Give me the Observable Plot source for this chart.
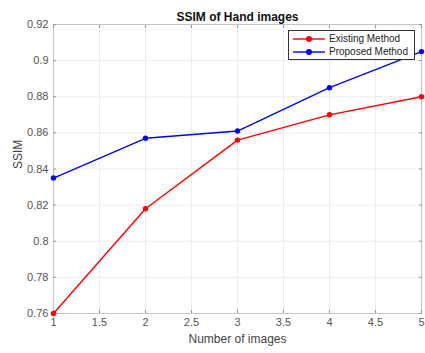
<!DOCTYPE html>
<html><head><meta charset="utf-8">
<script src="https://cdn.jsdelivr.net/npm/d3@7"></script>
<script src="https://cdn.jsdelivr.net/npm/@observablehq/plot@0.6"></script>
<style>
body{margin:0;background:#fff;font-family:"Liberation Sans",Arial,sans-serif;}
#wrap{position:relative;width:425px;height:353px;}
#legend{position:absolute;left:288px;top:30px;width:125px;height:28px;border:1px solid #333;background:#fff;font-size:10px;color:#222;white-space:nowrap;}
#legend .row{position:absolute;left:3px;height:13px;display:flex;align-items:center;}
#legend svg{margin-right:3px;}
</style></head>
<body><div id="wrap"><div id="legend"></div></div>
<script>
const images = [1, 2, 3, 4, 5];
const existing = [0.76, 0.818, 0.856, 0.87, 0.88];
const proposed = [0.835, 0.857, 0.861, 0.885, 0.905];
const seriesNames = ["Existing Method", "Proposed Method"];
const seriesColors = ["#ff0000", "#0000ff"];
const xTicks = [1, 1.5, 2, 2.5, 3, 3.5, 4, 4.5, 5];
const yTicks = [0.76, 0.78, 0.8, 0.82, 0.84, 0.86, 0.88, 0.9, 0.92];

const data = [];
images.forEach((x, i) => {
  data.push({x, y: existing[i], s: seriesNames[0]});
  data.push({x, y: proposed[i], s: seriesNames[1]});
});

const chart = Plot.plot({
  width: 425, height: 353,
  marginLeft: 53, marginRight: 4, marginTop: 24, marginBottom: 40,
  style: {fontFamily: "Liberation Sans, Arial, sans-serif", fontSize: "11px", color: "#555", background: "#fff"},
  x: {domain: [1, 5], ticks: xTicks, label: null},
  y: {domain: [0.76, 0.92], ticks: yTicks, label: null},
  color: {domain: seriesNames, range: seriesColors},
  marks: [
    Plot.gridX(xTicks, {stroke: "#ebebeb", strokeOpacity: 1}),
    Plot.gridY(yTicks, {stroke: "#ebebeb", strokeOpacity: 1}),
    Plot.frame({stroke: "#c4c4c4"}),
    Plot.axisX(xTicks, {anchor: "bottom", tickSize: -3, tickPadding: 8, stroke: "#999", fill: "#555", tickFormat: d => String(d), fontSize: 11, label: null}),
    Plot.axisX(xTicks, {anchor: "top", tickSize: -3, text: null, stroke: "#999", label: null}),
    Plot.axisY(yTicks, {anchor: "left", tickSize: -3, tickPadding: 8, stroke: "#999", fill: "#555", tickFormat: d => String(+d.toFixed(2)), fontSize: 11, label: null}),
    Plot.axisY(yTicks, {anchor: "right", tickSize: -3, text: null, stroke: "#999", label: null}),
    Plot.line(data, {x: "x", y: "y", z: "s", stroke: "s", strokeWidth: 1.4}),
    Plot.dot(data, {x: "x", y: "y", fill: "s", r: 2.7}),
    Plot.text(["SSIM of Hand images"], {frameAnchor: "top", dy: -12, fontWeight: "bold", fontSize: 12, fill: "#111"}),
    Plot.text(["Number of images"], {frameAnchor: "bottom", dy: 29, fontSize: 12, fill: "#444"}),
    Plot.text(["SSIM"], {frameAnchor: "left", dx: -35, rotate: -90, fontSize: 12, fill: "#444"})
  ]
});
const wrap = document.getElementById("wrap");
wrap.insertBefore(chart, wrap.firstChild);
chart.style.position = "absolute"; chart.style.left = "0"; chart.style.top = "0";

const legend = document.getElementById("legend");
seriesNames.forEach((n, i) => {
  const row = document.createElement("div");
  row.className = "row";
  row.style.top = (1 + i * 13) + "px";
  row.innerHTML = `<svg width="34" height="8"><line x1="1" y1="4" x2="33" y2="4" stroke="${seriesColors[i]}" stroke-width="1.4"/><circle cx="17" cy="4" r="3" fill="${seriesColors[i]}"/></svg><span>${n}</span>`;
  legend.appendChild(row);
});
</script></body></html>
